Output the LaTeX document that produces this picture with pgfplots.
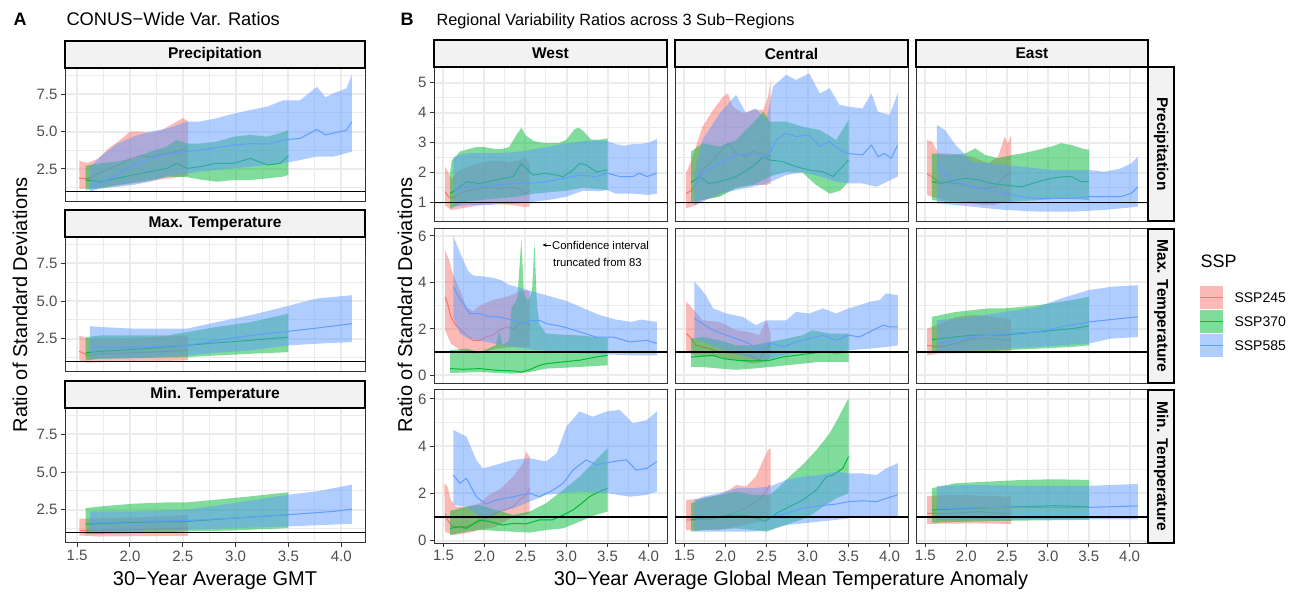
\documentclass[border=0pt]{standalone}
\usepackage{pgfplots}
\pgfplotsset{compat=1.18}
\usepackage{fontspec}
\setmainfont{Liberation Sans}
\usetikzlibrary{arrows.meta}
\definecolor{c245}{HTML}{F8766D}
\definecolor{c370}{HTML}{00BA38}
\definecolor{c585}{HTML}{619CFF}
\definecolor{gridc}{HTML}{EBEBEB}
\definecolor{g20}{HTML}{333333}
\definecolor{g30}{HTML}{4D4D4D}
\definecolor{stripbg}{HTML}{F2F2F2}
\newcommand{\ser}[4]{%
  \addplot[draw=none, fill=#1, fill opacity=0.5] coordinates {#2 #3};
  \addplot[draw=#1, line width=1pt] coordinates {#4};
}
\newcommand{\hone}{\addplot[black, line width=1.4pt] coordinates {(1.3,1)(4.3,1)};}
\pgfplotsset{
  gg/.style={
    scale only axis, anchor=north west,
    xmin=1.385, xmax=4.225,
    axis background/.style={fill=white},
    grid=both,
    major grid style={draw=gridc, line width=2pt},
    minor grid style={draw=gridc, line width=1pt},
    axis line style={draw=g20, line width=1pt},
    tick align=outside, major tick length=4pt, minor tick length=0pt,
    tick style={draw=g20, line width=1pt},
    xtick={1.5,2,2.5,3,3.5,4},
    minor xtick={1.75,2.25,2.75,3.25,3.75},
    xtick pos=lower, ytick pos=left,
    ticklabel style={font=\fontsize{15}{15}\selectfont, text=g30},
    xticklabels={}, 
  },
  xlab/.style={xticklabels={1.5,2.0,2.5,3.0,3.5,4.0}},
  noxt/.style={xtick style={draw=none}},
  noyt/.style={yticklabels={}, ytick style={draw=none}},
  pa/.style={gg, width=300pt, height=135pt, ymin=0.29, ymax=9.26, ytick={2.5,5,7.5}, yticklabels={2.5,5.0,7.5}, minor ytick={1.25,3.75,6.25,8.75}},
  r1/.style={gg, height=154pt, ymin=0.39, ymax=5.52, ytick={1,2,3,4,5}, yticklabels={1,2,3,4,5}, minor ytick={0.5,1.5,2.5,3.5,4.5}},
  r2/.style={gg, height=154pt, ymin=-0.33, ymax=6.3, ytick={0,2,4,6}, yticklabels={0,2,4,6}, minor ytick={1,3,5}},
  r3/.style={gg, height=153pt, ymin=-0.1, ymax=6.38, ytick={0,2,4,6}, yticklabels={0,2,4,6}, minor ytick={1,3,5}},
  cw/.style={width=233pt}, cc/.style={width=233pt}, ce/.style={width=232pt},
}
\begin{document}
\begin{tikzpicture}[x=1pt,y=1pt]
\path[use as bounding box] (0,0) rectangle (1304,592);

% ---------------- Panel A ----------------
\begin{axis}[pa, noxt, height=134pt, at={(65pt,524pt)}]
\ser{c245}{(1.52,3.04)(1.6,2.9)(1.7,3.2)(1.8,3.9)(1.9,4.4)(2.0,5.0)(2.1,5.0)(2.2,4.9)(2.3,5.1)(2.4,5.5)(2.5,5.9)(2.55,5.7)}{(2.55,2.05)(2.5,2.0)(2.4,1.9)(2.3,1.8)(2.2,1.7)(2.1,1.6)(2.0,1.5)(1.9,1.4)(1.8,1.3)(1.7,1.25)(1.6,1.2)(1.52,1.15)}{(1.52,1.88)(1.6,1.85)(1.7,2.2)(1.8,2.5)(1.9,2.8)(2.0,3.2)(2.1,3.4)(2.2,3.3)(2.3,3.5)(2.4,3.6)(2.5,3.8)(2.55,3.7)}
\ser{c370}{(1.58,2.72)(1.72,2.88)(1.88,3.0)(2.03,3.2)(2.19,3.66)(2.35,4.0)(2.44,4.44)(2.54,4.2)(2.66,4.2)(2.82,4.33)(2.98,4.66)(3.14,4.78)(3.3,4.66)(3.42,4.9)(3.5,5.1)}{(3.5,2.1)(3.45,1.99)(3.3,1.87)(3.14,1.76)(2.98,1.76)(2.82,1.65)(2.66,1.8)(2.54,1.95)(2.35,1.99)(2.19,1.76)(2.03,1.58)(1.88,1.43)(1.72,1.2)(1.58,1.1)}{(1.58,1.76)(1.72,1.65)(1.88,1.88)(2.03,2.1)(2.19,2.32)(2.35,2.54)(2.44,2.88)(2.54,2.54)(2.66,2.65)(2.82,2.88)(2.98,2.88)(3.14,3.21)(3.3,2.77)(3.42,2.88)(3.5,3.37)}
\ser{c585}{(1.62,2.6)(1.72,3.33)(1.88,4.2)(2.03,4.66)(2.19,5.0)(2.35,5.2)(2.54,5.67)(2.66,5.67)(2.82,5.9)(2.98,6.2)(3.14,6.45)(3.3,6.67)(3.45,7.1)(3.61,7.1)(3.77,8.0)(3.85,7.3)(3.93,7.57)(4.05,7.9)(4.1,8.8)}{(4.1,3.66)(3.93,3.33)(3.77,3.33)(3.61,3.1)(3.45,2.88)(3.3,2.77)(3.14,2.65)(2.98,2.54)(2.82,2.43)(2.66,2.32)(2.54,2.2)(2.35,1.99)(2.19,1.65)(2.03,1.43)(1.88,1.3)(1.72,1.2)(1.62,0.98)}{(1.62,1.2)(1.72,1.58)(1.88,2.1)(2.03,2.77)(2.19,3.2)(2.35,3.5)(2.54,3.66)(2.66,3.77)(2.82,3.93)(2.98,4.1)(3.14,4.2)(3.3,4.17)(3.45,4.44)(3.61,4.55)(3.77,5.15)(3.85,4.78)(3.93,4.9)(4.05,5.1)(4.1,5.67)}
\hone
\end{axis}

\begin{axis}[pa, noxt, at={(65pt,355pt)}]
\ser{c245}{(1.52,2.72)(1.6,2.5)(1.8,2.5)(2.0,2.55)(2.2,2.6)(2.4,2.7)(2.55,2.7)}{(2.55,1.06)(2.3,1.02)(2.0,1.0)(1.8,0.96)(1.6,0.9)(1.52,1.06)}{(1.52,1.66)(1.6,1.4)(1.72,1.5)(2.03,1.57)(2.35,1.66)(2.55,1.72)}
\ser{c370}{(1.58,2.6)(1.72,2.72)(2.03,2.72)(2.35,2.72)(2.54,2.94)(2.82,3.28)(3.14,3.6)(3.5,4.17)}{(3.5,1.61)(3.14,1.5)(2.82,1.39)(2.54,1.28)(2.03,1.21)(1.72,1.17)(1.58,1.06)}{(1.58,1.57)(1.72,1.66)(2.03,1.79)(2.54,2.06)(2.82,2.23)(3.14,2.39)(3.5,2.61)}
\ser{c585}{(1.62,3.34)(1.72,3.28)(2.03,3.17)(2.35,3.17)(2.54,3.17)(2.82,3.6)(3.14,4.06)(3.45,4.6)(3.77,5.17)(3.93,5.28)(4.1,5.39)}{(4.1,2.28)(3.77,2.17)(3.5,2.06)(3.14,1.72)(2.82,1.57)(2.54,1.39)(2.03,1.21)(1.62,1.17)}{(1.62,1.94)(2.03,1.94)(2.54,2.06)(2.82,2.39)(3.14,2.72)(3.5,2.99)(3.77,3.21)(4.1,3.5)}
\hone
\end{axis}

\begin{axis}[pa, xlab, at={(65pt,184pt)}]
\ser{c245}{(1.52,1.9)(1.8,1.95)(2.1,2.0)(2.4,2.1)(2.55,2.15)}{(2.55,0.77)(2.0,0.74)(1.7,0.72)(1.52,0.79)}{(1.52,1.12)(2.03,1.17)(2.55,1.28)}
\ser{c370}{(1.58,2.61)(1.72,2.72)(2.03,2.9)(2.35,2.99)(2.54,2.99)(2.82,3.17)(3.14,3.39)(3.5,3.66)}{(3.5,1.28)(2.98,1.12)(2.54,1.06)(2.03,0.94)(1.58,0.88)}{(1.58,1.54)(2.03,1.66)(2.54,1.72)(2.98,1.94)(3.5,2.17)}
\ser{c585}{(1.62,2.39)(2.03,2.39)(2.54,2.5)(2.98,2.94)(3.5,3.5)(3.77,3.72)(4.1,4.17)}{(4.1,1.57)(3.5,1.39)(2.54,1.17)(1.62,1.06)}{(1.62,1.66)(2.54,1.79)(2.98,1.94)(3.5,2.17)(3.93,2.39)(4.1,2.54)}
\hone
\end{axis}

% ---------------- Panel B: West ----------------
\begin{axis}[r1, cw, noxt, at={(434pt,525pt)}]
\ser{c245}{(1.52,2.2)(1.6,1.8)(1.7,2.1)(1.8,2.2)(1.9,2.3)(2.0,2.35)(2.1,2.4)(2.2,2.4)(2.3,2.35)(2.4,2.4)(2.5,2.5)(2.55,2.3)}{(2.55,0.87)(2.5,0.85)(2.4,0.9)(2.3,0.93)(2.2,0.95)(2.1,0.95)(2.0,0.93)(1.9,0.9)(1.8,0.85)(1.7,0.8)(1.6,0.75)(1.52,0.9)}{(1.52,1.37)(1.56,1.2)(1.6,1.15)(1.7,1.3)(1.8,1.4)(1.9,1.45)(2.0,1.5)(2.1,1.5)(2.2,1.48)(2.3,1.5)(2.4,1.5)(2.5,1.3)(2.55,1.42)}
\ser{c370}{(1.58,1.98)(1.6,2.4)(1.7,2.7)(1.8,2.78)(1.9,2.85)(2.0,2.85)(2.1,2.8)(2.2,2.78)(2.3,2.85)(2.4,3.3)(2.45,3.5)(2.5,3.25)(2.6,3.05)(2.7,3.0)(2.8,2.98)(2.9,2.98)(3.0,3.1)(3.1,3.45)(3.15,3.5)(3.2,3.4)(3.3,3.1)(3.4,3.1)(3.5,3.14)}{(3.5,1.42)(3.4,1.45)(3.2,1.5)(3.0,1.4)(2.8,1.35)(2.6,1.3)(2.4,1.2)(2.2,1.15)(2.0,1.1)(1.8,1.05)(1.7,0.95)(1.58,0.8)}{(1.58,1.31)(1.65,1.42)(1.78,1.7)(1.94,1.64)(2.14,1.76)(2.35,1.87)(2.45,2.31)(2.51,2.14)(2.59,1.92)(2.75,1.98)(2.96,1.87)(3.08,2.09)(3.16,2.31)(3.24,2.26)(3.36,2.03)(3.5,2.09)}
\ser{c585}{(1.62,2.5)(1.7,2.6)(1.8,2.65)(2.0,2.65)(2.2,2.65)(2.4,2.7)(2.6,2.78)(2.8,2.87)(3.0,2.98)(3.2,3.05)(3.4,3.08)(3.5,3.05)(3.6,2.95)(3.7,2.9)(3.8,2.95)(3.9,2.95)(4.0,3.0)(4.1,3.12)}{(4.1,1.3)(4.0,1.26)(3.8,1.3)(3.6,1.3)(3.5,1.42)(3.4,1.38)(3.2,1.4)(3.0,1.2)(2.8,1.1)(2.6,1.03)(2.4,0.98)(2.2,0.95)(2.0,0.92)(1.8,0.92)(1.62,0.87)}{(1.62,1.42)(1.78,1.53)(1.94,1.53)(2.14,1.59)(2.35,1.64)(2.55,1.64)(2.75,1.7)(2.96,1.81)(3.16,1.92)(3.36,1.87)(3.5,1.98)(3.65,1.87)(3.81,1.87)(3.89,1.98)(3.98,1.87)(4.1,1.98)}
\hone
\end{axis}

\begin{axis}[r2, cw, noxt, at={(434pt,363pt)}]
\ser{c245}{(1.52,5.4)(1.57,4.96)(1.61,4.4)(1.7,3.67)(1.78,2.95)(1.86,2.75)(1.94,3.0)(2.1,3.24)(2.27,3.38)(2.43,3.6)(2.51,3.67)(2.55,3.6)}{(2.55,1.22)(2.35,1.22)(2.14,1.15)(2.02,1.0)(1.86,0.94)(1.74,1.0)(1.59,1.37)(1.52,1.94)}{(1.52,3.38)(1.55,3.09)(1.59,2.52)(1.65,2.16)(1.78,1.73)(1.86,1.51)(1.94,1.51)(2.02,1.65)(2.1,1.73)(2.18,1.94)(2.27,2.09)(2.35,2.01)(2.43,2.23)(2.51,2.3)(2.55,2.16)}
\ser{c370}{(1.58,1.08)(1.78,1.15)(1.94,1.0)(2.14,1.3)(2.18,1.9)(2.22,1.3)(2.3,1.5)(2.33,2.9)(2.4,3.3)(2.45,5.85)(2.48,3.5)(2.53,3.2)(2.58,3.6)(2.61,5.7)(2.64,3.0)(2.67,2.2)(2.75,1.8)(2.96,1.75)(3.16,1.72)(3.36,1.65)(3.5,1.6)}{(3.5,0.43)(3.16,0.36)(2.75,0.29)(2.55,0.14)(2.35,0.07)(1.94,0.14)(1.58,0.1)}{(1.58,0.29)(1.74,0.26)(1.94,0.29)(2.14,0.22)(2.35,0.19)(2.45,0.14)(2.55,0.24)(2.67,0.43)(2.75,0.5)(2.96,0.58)(3.16,0.65)(3.36,0.79)(3.5,0.86)}
\ser{c585}{(1.62,6.0)(1.7,5.3)(1.8,4.5)(1.86,4.3)(2.0,4.25)(2.1,4.2)(2.2,4.1)(2.3,3.9)(2.4,3.8)(2.5,3.7)(2.6,3.6)(2.8,3.4)(3.0,3.2)(3.2,2.9)(3.4,2.6)(3.5,2.5)(3.6,2.4)(3.8,2.3)(3.9,2.4)(4.0,2.35)(4.1,2.3)}{(4.1,0.86)(3.8,0.86)(3.5,0.9)(3.2,0.95)(3.0,1.0)(2.8,1.05)(2.6,1.1)(2.4,1.2)(2.2,1.3)(2.0,1.45)(1.8,1.6)(1.7,1.8)(1.62,2.5)}{(1.62,3.81)(1.7,3.3)(1.82,2.66)(1.94,2.66)(2.06,2.52)(2.18,2.52)(2.35,2.37)(2.47,2.23)(2.55,2.37)(2.67,2.37)(2.75,2.23)(2.96,2.09)(3.16,1.87)(3.36,1.65)(3.57,1.65)(3.77,1.44)(3.98,1.51)(4.1,1.37)}
\hone
\end{axis}

\begin{axis}[r3, cw, xlab, at={(434pt,202pt)}]
\ser{c245}{(1.51,2.43)(1.55,2.29)(1.59,1.72)(1.65,1.44)(1.78,1.44)(1.94,1.58)(2.06,1.94)(2.18,2.15)(2.35,2.71)(2.47,3.28)(2.51,3.77)(2.55,3.56)}{(2.55,1.16)(2.51,1.09)(2.35,1.02)(2.14,0.59)(1.94,0.45)(1.78,0.31)(1.61,0.24)(1.52,0.38)}{(1.52,1.16)(1.55,0.88)(1.61,0.59)(1.78,0.59)(1.94,0.81)(2.06,1.02)(2.18,1.23)(2.35,1.44)(2.43,1.72)(2.51,1.94)(2.55,2.22)}
\ser{c370}{(1.58,1.26)(1.78,1.44)(1.94,1.51)(2.14,1.3)(2.35,1.09)(2.55,1.23)(2.75,1.58)(2.96,2.15)(3.16,2.71)(3.36,3.42)(3.5,3.91)}{(3.5,1.23)(3.36,1.09)(3.16,0.81)(2.96,0.52)(2.75,0.45)(2.55,0.34)(2.35,0.38)(1.94,0.45)(1.78,0.38)(1.58,0.24)}{(1.58,0.52)(1.7,0.59)(1.78,0.52)(1.94,0.88)(2.06,0.81)(2.22,0.66)(2.35,0.73)(2.51,0.71)(2.67,0.88)(2.83,0.88)(2.96,1.09)(3.08,1.3)(3.16,1.51)(3.28,1.86)(3.36,2.01)(3.5,2.22)}
\ser{c585}{(1.62,4.69)(1.7,4.55)(1.78,4.41)(1.9,3.42)(1.98,3.06)(2.14,3.21)(2.35,3.42)(2.55,3.49)(2.75,3.35)(2.88,3.7)(3.0,4.83)(3.16,5.47)(3.32,5.25)(3.49,5.47)(3.65,5.54)(3.81,4.97)(3.98,5.11)(4.1,5.47)}{(4.1,2.08)(3.98,1.94)(3.77,1.86)(3.5,2.01)(3.16,2.08)(2.96,2.01)(2.75,1.94)(2.55,1.65)(2.35,1.37)(2.14,1.16)(2.02,0.88)(1.94,1.02)(1.78,1.44)(1.62,1.51)}{(1.62,2.78)(1.7,2.43)(1.78,2.64)(1.9,1.86)(2.02,1.55)(2.14,1.72)(2.35,1.86)(2.55,2.01)(2.67,1.86)(2.84,2.15)(2.96,2.43)(3.08,2.99)(3.24,3.42)(3.36,3.21)(3.57,3.35)(3.73,3.42)(3.85,2.99)(3.98,3.06)(4.1,3.35)}
\hone
\end{axis}

% ---------------- Panel B: Central ----------------
\begin{axis}[r1, cc, noxt, noyt, at={(675pt,525pt)}]
\ser{c245}{(1.52,1.98)(1.6,2.53)(1.72,3.53)(1.85,4.09)(1.97,4.53)(2.03,4.64)(2.09,4.2)(2.21,3.98)(2.33,4.09)(2.46,4.09)(2.52,4.53)(2.55,5.09)}{(2.55,1.64)(2.5,1.59)(2.33,1.59)(2.13,1.53)(1.89,1.2)(1.72,1.09)(1.64,0.92)(1.52,0.81)}{(1.52,1.31)(1.6,1.42)(1.72,2.09)(1.85,2.42)(1.97,2.81)(2.03,2.98)(2.13,2.64)(2.25,2.53)(2.33,2.7)(2.46,2.64)(2.52,2.53)(2.55,2.59)}
\ser{c370}{(1.58,2.7)(1.72,2.98)(1.93,2.87)(2.13,3.09)(2.33,3.64)(2.46,4.03)(2.54,3.7)(2.62,3.7)(2.74,3.7)(2.94,3.53)(3.15,3.42)(3.35,3.09)(3.5,3.76)}{(3.5,1.7)(3.4,1.4)(3.27,1.3)(3.1,1.6)(2.94,2.0)(2.74,2.03)(2.54,1.87)(2.33,1.59)(2.13,1.48)(1.93,1.2)(1.72,1.09)(1.58,1.03)}{(1.58,1.67)(1.68,1.87)(1.8,1.64)(1.93,1.7)(2.13,1.87)(2.33,2.2)(2.46,2.53)(2.54,2.42)(2.7,2.37)(2.86,2.2)(3.02,2.09)(3.19,2.03)(3.31,1.87)(3.5,2.42)}
\ser{c585}{(1.62,2.0)(1.72,3.09)(1.93,3.98)(2.13,4.59)(2.25,3.98)(2.37,4.14)(2.5,3.76)(2.58,4.87)(2.74,5.26)(2.86,5.09)(3.02,5.31)(3.15,4.64)(3.27,4.81)(3.39,4.26)(3.5,4.2)(3.67,4.14)(3.78,4.64)(3.86,4.03)(4.0,3.92)(4.1,4.64)}{(4.1,1.87)(3.84,1.53)(3.67,1.64)(3.5,1.64)(3.35,1.7)(3.15,1.87)(2.94,2.03)(2.74,1.92)(2.5,1.64)(2.33,1.53)(2.13,1.42)(1.93,1.31)(1.72,1.03)(1.62,0.92)}{(1.62,1.53)(1.72,1.98)(1.93,2.31)(2.13,2.59)(2.33,2.64)(2.46,2.53)(2.54,2.64)(2.62,3.09)(2.74,3.31)(2.86,3.2)(3.02,3.26)(3.15,2.87)(3.27,3.03)(3.39,2.76)(3.5,2.64)(3.67,2.59)(3.78,2.92)(3.86,2.53)(3.94,2.64)(4.02,2.48)(4.1,2.92)}
\hone
\end{axis}

\begin{axis}[r2, cc, noxt, noyt, at={(675pt,363pt)}]
\ser{c245}{(1.52,3.17)(1.6,2.88)(1.72,2.37)(1.93,2.3)(2.13,1.94)(2.29,1.87)(2.41,1.73)(2.5,2.37)(2.55,1.8)}{(2.55,0.79)(2.5,0.58)(2.33,0.5)(2.13,0.65)(1.93,0.79)(1.64,0.86)(1.52,1.0)}{(1.52,1.8)(1.57,1.65)(1.64,1.29)(1.8,1.15)(1.93,1.01)(2.13,0.94)(2.29,0.86)(2.41,0.65)(2.5,1.15)(2.55,1.29)}
\ser{c370}{(1.58,1.58)(1.72,1.65)(1.93,1.51)(2.13,1.29)(2.33,1.29)(2.54,1.44)(2.74,1.58)(2.94,1.73)(3.06,1.94)(3.27,1.8)(3.5,1.8)}{(3.5,0.58)(3.15,0.58)(2.94,0.5)(2.74,0.43)(2.54,0.36)(2.33,0.29)(2.13,0.24)(1.93,0.29)(1.72,0.36)(1.58,0.36)}{(1.58,0.79)(1.72,0.82)(1.85,0.86)(1.97,0.72)(2.13,0.65)(2.33,0.62)(2.54,0.65)(2.7,0.79)(2.86,0.86)(3.02,0.94)(3.19,1.0)(3.35,0.96)(3.5,1.0)}
\ser{c585}{(1.62,4.03)(1.68,3.81)(1.76,3.45)(1.85,2.88)(2.01,2.66)(2.21,2.52)(2.37,2.16)(2.5,2.37)(2.62,2.37)(2.74,2.37)(2.86,2.73)(3.02,2.66)(3.19,2.88)(3.35,2.66)(3.5,2.88)(3.63,3.02)(3.76,3.17)(3.88,3.24)(3.96,3.53)(4.1,3.45)}{(4.1,1.29)(3.96,1.22)(3.76,1.15)(3.5,1.08)(3.27,1.0)(3.02,1.0)(2.82,0.94)(2.62,0.79)(2.5,0.65)(2.33,0.72)(2.13,0.94)(1.93,1.15)(1.72,1.44)(1.62,1.58)}{(1.62,2.45)(1.72,2.23)(1.85,1.94)(2.01,1.73)(2.13,1.58)(2.29,1.37)(2.41,1.08)(2.5,1.29)(2.58,1.37)(2.7,1.22)(2.86,1.44)(3.02,1.58)(3.19,1.73)(3.35,1.51)(3.5,1.73)(3.63,1.65)(3.76,1.87)(3.92,2.16)(4.0,2.09)(4.1,2.09)}
\hone
\end{axis}

\begin{axis}[r3, cc, xlab, noyt, at={(675pt,202pt)}]
\ser{c245}{(1.52,1.72)(1.72,1.79)(1.93,1.94)(2.05,2.15)(2.13,2.36)(2.25,2.29)(2.37,2.71)(2.46,3.42)(2.52,3.84)(2.55,3.91)}{(2.55,0.88)(2.5,0.88)(2.33,0.73)(2.13,0.59)(1.93,0.45)(1.72,0.45)(1.52,0.45)}{(1.52,0.88)(1.64,0.88)(1.8,0.9)(1.97,1.02)(2.13,1.23)(2.25,1.37)(2.33,1.58)(2.41,1.72)(2.48,2.01)(2.54,2.36)}
\ser{c370}{(1.58,1.58)(1.72,1.79)(1.93,1.94)(2.13,2.08)(2.33,1.94)(2.54,1.94)(2.66,2.29)(2.78,2.71)(2.94,3.21)(3.11,3.84)(3.27,4.55)(3.35,5.04)(3.5,6.03)}{(3.5,2.01)(3.35,1.79)(3.19,1.44)(3.02,1.02)(2.86,0.81)(2.66,0.59)(2.5,0.38)(2.33,0.45)(2.13,0.52)(1.93,0.48)(1.72,0.45)(1.58,0.38)}{(1.58,0.88)(1.72,0.95)(1.93,1.02)(2.13,1.09)(2.33,1.02)(2.48,0.81)(2.62,1.16)(2.78,1.44)(2.94,1.72)(3.11,2.15)(3.23,2.71)(3.31,2.78)(3.43,3.06)(3.5,3.56)}
\ser{c585}{(1.62,1.72)(1.72,1.86)(1.93,2.01)(2.13,2.22)(2.33,2.22)(2.54,2.29)(2.74,2.57)(2.94,2.71)(3.15,2.78)(3.35,2.92)(3.5,2.85)(3.67,2.85)(3.84,2.78)(3.96,3.06)(4.1,3.28)}{(4.1,1.05)(3.76,1.02)(3.5,0.95)(3.35,0.88)(3.15,0.81)(2.94,0.73)(2.74,0.66)(2.54,0.45)(2.33,0.38)(1.93,0.38)(1.62,0.38)}{(1.62,0.95)(1.93,0.99)(2.33,0.99)(2.54,0.99)(2.74,1.16)(2.94,1.37)(3.15,1.47)(3.35,1.55)(3.5,1.65)(3.67,1.69)(3.84,1.65)(3.96,1.79)(4.1,1.94)}
\hone
\end{axis}

% ---------------- Panel B: East ----------------
\begin{axis}[r1, ce, noxt, noyt, at={(916pt,525pt)}]
\ser{c245}{(1.52,3.09)(1.58,3.03)(1.66,2.64)(1.78,2.64)(2.07,2.53)(2.27,2.31)(2.39,2.53)(2.47,3.2)(2.51,2.98)(2.55,3.26)}{(2.55,1.03)(2.47,1.03)(2.35,0.92)(2.19,0.92)(1.99,1.03)(1.74,1.09)(1.58,1.2)(1.52,1.26)}{(1.52,1.96)(1.58,1.87)(1.66,1.7)(1.87,1.64)(2.07,1.53)(2.23,1.48)(2.35,1.53)(2.47,1.87)(2.55,2.03)}
\ser{c370}{(1.58,2.64)(1.78,2.59)(1.99,2.64)(2.11,2.81)(2.23,2.59)(2.39,2.48)(2.56,2.59)(2.68,2.64)(2.88,2.76)(3.04,2.87)(3.16,2.98)(3.29,2.92)(3.41,2.81)(3.5,2.76)}{(3.5,1.09)(3.2,1.14)(2.88,1.09)(2.56,1.03)(2.27,0.98)(1.91,0.98)(1.74,1.03)(1.58,1.09)}{(1.58,1.7)(1.7,1.64)(1.87,1.76)(1.99,1.81)(2.15,1.76)(2.31,1.64)(2.47,1.59)(2.68,1.53)(2.88,1.7)(3.04,1.81)(3.2,1.87)(3.29,1.87)(3.41,1.7)(3.5,1.7)}
\ser{c585}{(1.64,3.59)(1.74,3.42)(1.87,2.92)(2.07,2.37)(2.27,2.31)(2.47,2.26)(2.68,2.2)(2.88,2.14)(3.08,2.09)(3.29,2.09)(3.5,2.09)(3.69,2.03)(3.89,2.14)(4.02,2.31)(4.1,2.53)}{(4.1,0.87)(3.89,0.81)(3.69,0.76)(3.29,0.7)(2.88,0.7)(2.47,0.76)(2.27,0.81)(2.07,0.87)(1.87,0.92)(1.64,0.98)}{(1.64,2.31)(1.74,1.98)(1.87,1.7)(2.07,1.53)(2.27,1.42)(2.47,1.31)(2.68,1.2)(2.88,1.14)(3.08,1.14)(3.29,1.14)(3.5,1.2)(3.69,1.2)(3.89,1.2)(4.02,1.31)(4.1,1.53)}
\hone
\end{axis}

\begin{axis}[r2, ce, noxt, noyt, at={(916pt,363pt)}]
\ser{c245}{(1.52,2.01)(1.66,2.2)(1.87,2.5)(2.07,2.6)(2.27,2.55)(2.55,2.4)}{(2.55,0.96)(2.07,0.96)(1.66,0.94)(1.52,0.86)}{(1.52,1.29)(1.66,1.22)(1.87,1.37)(2.07,1.58)(2.27,1.58)(2.55,1.51)}
\ser{c370}{(1.58,2.52)(1.87,2.73)(2.27,2.88)(2.47,2.88)(2.88,3.02)(3.29,3.24)(3.5,3.38)}{(3.5,1.29)(3.29,1.22)(2.88,1.15)(2.47,1.08)(2.07,1.0)(1.58,0.96)}{(1.58,1.54)(2.07,1.73)(2.47,1.73)(2.88,1.87)(3.29,2.01)(3.5,2.12)}
\ser{c585}{(1.64,2.37)(2.07,2.52)(2.47,2.73)(2.88,2.95)(3.16,3.31)(3.5,3.67)(3.77,3.81)(4.1,3.88)}{(4.1,1.65)(3.77,1.58)(3.5,1.37)(2.88,1.22)(2.47,1.15)(2.07,1.08)(1.64,1.0)}{(1.64,1.37)(2.07,1.65)(2.47,1.8)(2.88,1.87)(3.16,2.09)(3.5,2.3)(3.77,2.4)(4.1,2.52)}
\hone
\end{axis}

\begin{axis}[r3, ce, xlab, noyt, at={(916pt,202pt)}]
\ser{c245}{(1.52,1.89)(1.87,1.94)(2.27,1.89)(2.55,1.86)}{(2.55,0.71)(2.07,0.73)(1.52,0.71)}{(1.52,1.16)(1.87,1.16)(2.15,1.23)(2.55,1.13)}
\ser{c370}{(1.58,2.22)(1.87,2.43)(2.27,2.5)(2.68,2.57)(3.08,2.6)(3.5,2.57)}{(3.5,0.88)(2.68,0.85)(2.07,0.81)(1.58,0.76)}{(1.58,1.3)(2.07,1.37)(2.68,1.44)(3.08,1.48)(3.5,1.44)}
\ser{c585}{(1.64,2.32)(2.07,2.36)(2.68,2.32)(3.5,2.32)(4.1,2.4)}{(4.1,0.9)(3.5,0.9)(2.47,0.88)(1.64,0.88)}{(1.64,1.37)(2.47,1.41)(3.5,1.41)(4.1,1.47)}
\hone
\end{axis}

% ---------------- strips ----------------
\tikzset{strip/.style={draw=black, fill=stripbg, line width=2.2pt},
  stxt/.style={font=\fontsize{15.5}{15.5}\selectfont\bfseries}}
\draw[strip] (65,524) rectangle (365,551);
\node[stxt] at (215,537.5) {Precipitation};
\draw[strip] (65,355) rectangle (365,382);
\node[stxt] at (215,368.5) {Max. Temperature};
\draw[strip] (65,184) rectangle (365,211);
\node[stxt] at (215,197.5) {Min. Temperature};

\draw[strip] (434,525) rectangle (667,552);
\node[stxt] at (550.5,538.5) {West};
\draw[strip] (675,525) rectangle (908,552);
\node[stxt] at (791.5,538.5) {Central};
\draw[strip] (916,525) rectangle (1148,552);
\node[stxt] at (1032,538.5) {East};

\draw[strip] (1148,371) rectangle (1174,525);
\node[stxt, rotate=-90] at (1161,448) {Precipitation};
\draw[strip] (1148,209) rectangle (1174,363);
\node[stxt, rotate=-90] at (1161,286) {Max. Temperature};
\draw[strip] (1148,49) rectangle (1174,202);
\node[stxt, rotate=-90] at (1161,125.5) {Min. Temperature};

% ---------------- titles and labels ----------------
\node[anchor=base west, font=\fontsize{18}{18}\selectfont\bfseries] at (10,566) {A};
\node[anchor=base west, font=\fontsize{18.3}{18.3}\selectfont] at (63,566) {CONUS−Wide Var. Ratios};
\node[anchor=base west, font=\fontsize{18}{18}\selectfont\bfseries] at (397,566) {B};
\node[anchor=base west, font=\fontsize{16.3}{16.3}\selectfont] at (433,566) {Regional Variability Ratios across 3 Sub−Regions};

\node[rotate=90, font=\fontsize{20}{20}\selectfont] at (20,287) {Ratio of Standard Deviations};
\node[rotate=90, font=\fontsize{20}{20}\selectfont] at (405,287) {Ratio of Standard Deviations};
\node[anchor=base, font=\fontsize{20}{20}\selectfont] at (215,7) {30−Year Average GMT};
\node[anchor=base, font=\fontsize{20}{20}\selectfont] at (791,7) {30−Year Average Global Mean Temperature Anomaly};

% annotation
\draw[-{Stealth[length=4pt,width=3.5pt]}, line width=0.7pt] (551,347) -- (542.5,347);
\node[anchor=west, inner sep=0pt, font=\fontsize{11.3}{11.3}\selectfont] at (552,347) {Confidence interval};
\node[anchor=west, inner sep=0pt, font=\fontsize{11.3}{11.3}\selectfont] at (553,330) {truncated from 83};

% legend
\node[anchor=base west, font=\fontsize{18}{18}\selectfont] at (1197,324) {SSP};
\fill[c245, fill opacity=0.5] (1200,283) rectangle (1223,306);
\draw[c245, line width=1.1pt] (1200,294.5) -- (1223,294.5);
\fill[c370, fill opacity=0.5] (1200,259) rectangle (1223,282);
\draw[c370, line width=1.1pt] (1200,270.5) -- (1223,270.5);
\fill[c585, fill opacity=0.5] (1200,235) rectangle (1223,258);
\draw[c585, line width=1.1pt] (1200,246.5) -- (1223,246.5);
\node[anchor=west, font=\fontsize{14}{14}\selectfont] at (1231,294.5) {SSP245};
\node[anchor=west, font=\fontsize{14}{14}\selectfont] at (1231,270.5) {SSP370};
\node[anchor=west, font=\fontsize{14}{14}\selectfont] at (1231,246.5) {SSP585};
\end{tikzpicture}
\end{document}
